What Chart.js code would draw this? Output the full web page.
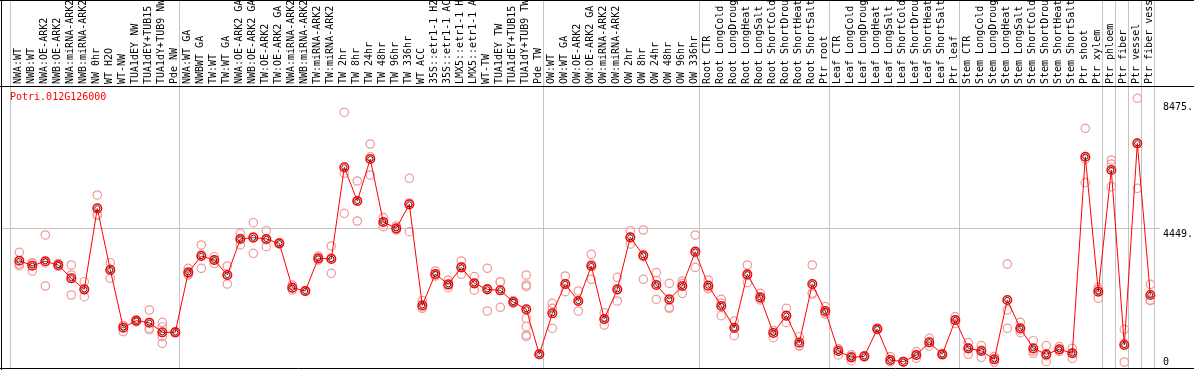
<!DOCTYPE html>
<html>
<head>
<meta charset="utf-8">
<script src="https://cdn.jsdelivr.net/npm/chart.js@4"></script>
<style>
  html, body { margin: 0; padding: 0; background: #fff; }
  canvas { display: block; }
</style>
</head>
<body>
<canvas id="expr" width="1194" height="370"></canvas>
<script>
// gene shown in the plot
const geneId = 'Potri.012G126000';

// sample names, in plot order
const categories = [
  'NWA:WT', 'NWB:WT', 'NWA:OE-ARK2', 'NWB:OE-ARK2', 'NWA:miRNA-ARK2', 'NWB:miRNA-ARK2', 'NW 0hr',
  'WT H2O', 'WT-NW', 'TUA1dEY NW', 'TUA1dEY+TUB15', 'TUA1dY+TUB9 NW', 'Pde NW',
  'NWA:WT GA', 'NWBWT GA', 'TW:WT', 'TW:WT GA', 'NWA:OE-ARK2 GA', 'NWB:OE-ARK2 GA', 'TW:OE-ARK2',
  'TW:OE-ARK2 GA', 'NWA:miRNA-ARK2', 'NWB:miRNA-ARK2', 'TW:miRNA-ARK2', 'TW:miRNA-ARK2',
  'TW 2hr', 'TW 8hr', 'TW 24hr', 'TW 48hr', 'TW 96hr', 'TW 336hr', 'WT ACC',
  '35S::etr1-1 H2O', '35S::etr1-1 ACC', 'LMX5::etr1-1 H2O', 'LMX5::etr1-1 ACC',
  'WT-TW', 'TUA1dEY TW', 'TUA1dEY+TUB15', 'TUA1dY+TUB9 TW', 'Pde TW',
  'OW:WT', 'OW:WT GA', 'OW:OE-ARK2', 'OW:OE-ARK2 GA', 'OW:miRNA-ARK2', 'OW:miRNA-ARK2',
  'OW 2hr', 'OW 8hr', 'OW 24hr', 'OW 48hr', 'OW 96hr', 'OW 336hr',
  'Root CTR', 'Root LongCold', 'Root LongDrought', 'Root LongHeat', 'Root LongSalt',
  'Root ShortCold', 'Root ShortDrought', 'Root ShortHeat', 'Root ShortSalt', 'Ptr root',
  'Leaf CTR', 'Leaf LongCold', 'Leaf LongDrought', 'Leaf LongHeat', 'Leaf LongSalt',
  'Leaf ShortCold', 'Leaf ShortDrought', 'Leaf ShortHeat', 'Leaf ShortSalt', 'Ptr leaf',
  'Stem CTR', 'Stem LongCold', 'Stem LongDrought', 'Stem LongHeat', 'Stem LongSalt',
  'Stem ShortCold', 'Stem ShortDrought', 'Stem ShortHeat', 'Stem ShortSalt', 'Ptr shoot', 'Ptr xylem',
  'Ptr phloem', 'Ptr fiber', 'Ptr vessel', 'Ptr fiber vessel'
];

// index of the first sample of each experiment block (last entry = end)
const groupStarts = [0, 13, 41, 53, 63, 73, 84, 85, 86, 87, 88];

// mean expression per sample
const means = [
  3367, 3201, 3347, 3224, 2781, 2415, 5107, 3058, 1140, 1373, 1306, 986, 986,
  2980, 3523, 3390, 2891, 4088, 4132, 4088, 3944, 2470, 2360, 3446, 3423, 6470, 5351,
  6747, 4653, 4442, 5240, 1884, 2925, 2582, 3146, 2614, 2415, 2382, 1994, 1751, 256,
  1618, 2592, 2027, 3191, 1429, 2415, 4143, 3545, 2559, 2083, 2526, 3667,
  2537, 1861, 1130, 2914, 2149, 964, 1540, 642, 2592, 1695,
  366, 155, 188, 1097, 66, 10, 233, 654, 255, 1396,
  454, 366, 89, 2061, 1120, 454, 255, 421, 289, 6823, 2337,
  6381, 565, 7268, 2227
];

// individual replicates per sample
const replicates = [
  [3646, 3255, 3200], [3300, 3279, 3024], [4221, 3294, 2526], [3280, 3210, 3180],
  [3224, 2892, 2227], [2669, 2405, 2171], [5550, 4890, 4880], [3300, 3093, 2781],
  [1213, 1200, 1007], [1400, 1380, 1340], [1728, 1120, 1070], [1319, 1164, 841, 620],
  [1000, 988, 970],
  [3113, 2936, 2891], [3889, 3567, 3113], [3500, 3390, 3280], [3191, 2890, 2592],
  [4276, 4099, 3889], [4630, 4154, 3612], [4364, 4067, 3833], [3960, 3942, 3930],
  [2559, 2458, 2393], [2370, 2360, 2350], [3523, 3425, 3390], [3855, 3467, 2947],
  [8299, 6271, 4942], [6016, 5351, 4686], [7245, 6823, 6215], [4797, 4653, 4498],
  [4520, 4420, 4387], [6105, 5284, 4331], [2039, 1829, 1784], [3024, 2893, 2858],
  [2725, 2551, 2470], [3357, 3167, 2914], [2836, 2613, 2393], [3113, 2437, 1695],
  [2669, 2660, 1817], [2039, 1994, 1950], [2891, 2559, 2503, 1452, 1174, 897, 841],
  [270, 250, 248],
  [1950, 1784, 1120], [2858, 2581, 2337], [2360, 2026, 1695], [3579, 3246, 2748],
  [1639, 1418, 1230], [2814, 2404, 2027], [4364, 4143, 3922], [4387, 3500, 2748],
  [2969, 2703, 2083], [2614, 1817, 1784], [2692, 2604, 2282], [4221, 3634, 3146],
  [2725, 2448, 2438], [2083, 1960, 1540], [1363, 1152, 875], [3224, 2882, 2636],
  [2282, 2104, 2061], [1044, 1040, 808], [1784, 1530, 1306], [841, 553, 532],
  [3224, 2292, 2260], [1839, 1651, 1595],
  [435, 430, 233], [241, 180, 44], [195, 190, 180], [1130, 1080, 1080],
  [177, 11, 10], [12, 10, 8], [343, 233, 122], [787, 643, 532],
  [280, 245, 240], [1507, 1396, 1285],
  [642, 465, 255], [543, 400, 155], [177, 90, 0], [3257, 1728, 1120],
  [1319, 1067, 974], [708, 365, 289], [543, 212, 10], [510, 400, 354],
  [454, 291, 122], [7767, 6742, 5960], [2480, 2415, 2116],
  [6713, 6581, 5827], [1086, 609, 0], [8764, 7267, 5773], [2582, 2060, 2039]
];

// value ticks on the right
const yTicks = [0, 4449, 8475];

const FONT = '"DejaVu Sans Mono", "Liberation Mono", monospace';
const CELL_SHIFT = 9 / 13;   // block separators sit left of the sample points
const GRID = '#c4c4c4';

const meanPoints = means.map((v, i) => ({ x: i, y: v }));
const repPoints = replicates.flatMap((r, i) => r.map(v => ({ x: i, y: v })));

// keep the axes from reserving extra room for their end labels
function noScalePadding(scale) {
  scale.paddingTop = 0;
  scale.paddingBottom = 0;
  scale.paddingLeft = 0;
  scale.paddingRight = 0;
}

// frame lines and gene name
const framePlugin = {
  id: 'frame',
  afterDraw(chart) {
    const { ctx, width, height, chartArea } = chart;
    ctx.save();
    ctx.strokeStyle = '#000';
    ctx.lineWidth = 1;
    ctx.beginPath();
    ctx.moveTo(0, 0.5); ctx.lineTo(width, 0.5);
    ctx.moveTo(0, chartArea.top + 0.5); ctx.lineTo(width, chartArea.top + 0.5);
    ctx.moveTo(0, chartArea.bottom - 0.5); ctx.lineTo(width, chartArea.bottom - 0.5);
    ctx.moveTo(1.5, 0); ctx.lineTo(1.5, height);
    ctx.stroke();
    ctx.fillStyle = '#ff0000';
    ctx.font = '10px ' + FONT;
    ctx.textBaseline = 'middle';
    ctx.fillText(geneId, 10, chartArea.top + 11);
    ctx.restore();
  }
};

new Chart(document.getElementById('expr'), {
  type: 'line',
  data: {
    datasets: [
      {
        label: 'mean ring',
        data: meanPoints,
        showLine: false,
        pointRadius: 2.6,
        pointBorderWidth: 1,
        pointBorderColor: 'rgba(40,0,0,0.85)',
        pointBackgroundColor: 'rgba(0,0,0,0)'
      },
      {
        label: 'mean',
        data: meanPoints,
        borderColor: '#ff0000',
        borderWidth: 1,
        tension: 0,
        pointRadius: 4.3,
        pointBorderWidth: 1.5,
        pointBorderColor: '#ff0000',
        pointBackgroundColor: 'rgba(0,0,0,0)'
      },
      {
        label: 'replicates',
        data: repPoints,
        showLine: false,
        pointRadius: 4.2,
        pointBorderWidth: 1.2,
        pointBorderColor: '#ef9a9a',
        pointBackgroundColor: 'rgba(0,0,0,0)'
      }
    ]
  },
  options: {
    responsive: false,
    devicePixelRatio: 1,
    animation: false,
    layout: { autoPadding: false, padding: { left: 2, right: 0, top: 0, bottom: 1 } },
    plugins: {
      legend: { display: false },
      tooltip: { enabled: false }
    },
    scales: {
      x: {
        type: 'linear',
        position: 'top',
        min: -17.3 / 13,
        max: -17.3 / 13 + 1158 / 13,
        afterFit: (scale) => { scale.height = 86; noScalePadding(scale); },
        afterBuildTicks: (scale) => {
          const t = categories.map((c, i) => ({ value: i }))
            .concat(groupStarts.map(k => ({ value: k - CELL_SHIFT })));
          t.sort((a, b) => a.value - b.value);
          scale.ticks = t;
        },
        border: { display: false },
        grid: {
          drawTicks: true,
          tickLength: 86,
          color: (ctx) => (ctx.tick && !Number.isInteger(ctx.tick.value)) ? GRID : 'rgba(0,0,0,0)'
        },
        ticks: {
          autoSkip: false,
          minRotation: 90,
          maxRotation: 90,
          padding: -84,
          color: '#000',
          // tiny line height keeps the rotated labels centred on their sample
          font: { family: FONT, size: 10, lineHeight: 0.1 },
          callback: (value) => Number.isInteger(value) ? categories[value] : ''
        }
      },
      y: {
        type: 'linear',
        position: 'right',
        min: -233,
        max: 9173,
        afterFit: (scale) => { scale.width = 34; noScalePadding(scale); },
        afterBuildTicks: (scale) => { scale.ticks = yTicks.map(v => ({ value: v })); },
        border: { display: false },
        grid: {
          drawTicks: false,
          color: (ctx) => (ctx.tick && ctx.tick.value === 4449) ? GRID : 'rgba(0,0,0,0)'
        },
        ticks: {
          padding: 3,
          color: '#000',
          font: { family: FONT, size: 10 },
          callback: (value) => value === 0 ? '0' : (value === 4449 ? ['', value + '.'] : value + '.')
        }
      }
    }
  },
  plugins: [framePlugin]
});
</script>
</body>
</html>
